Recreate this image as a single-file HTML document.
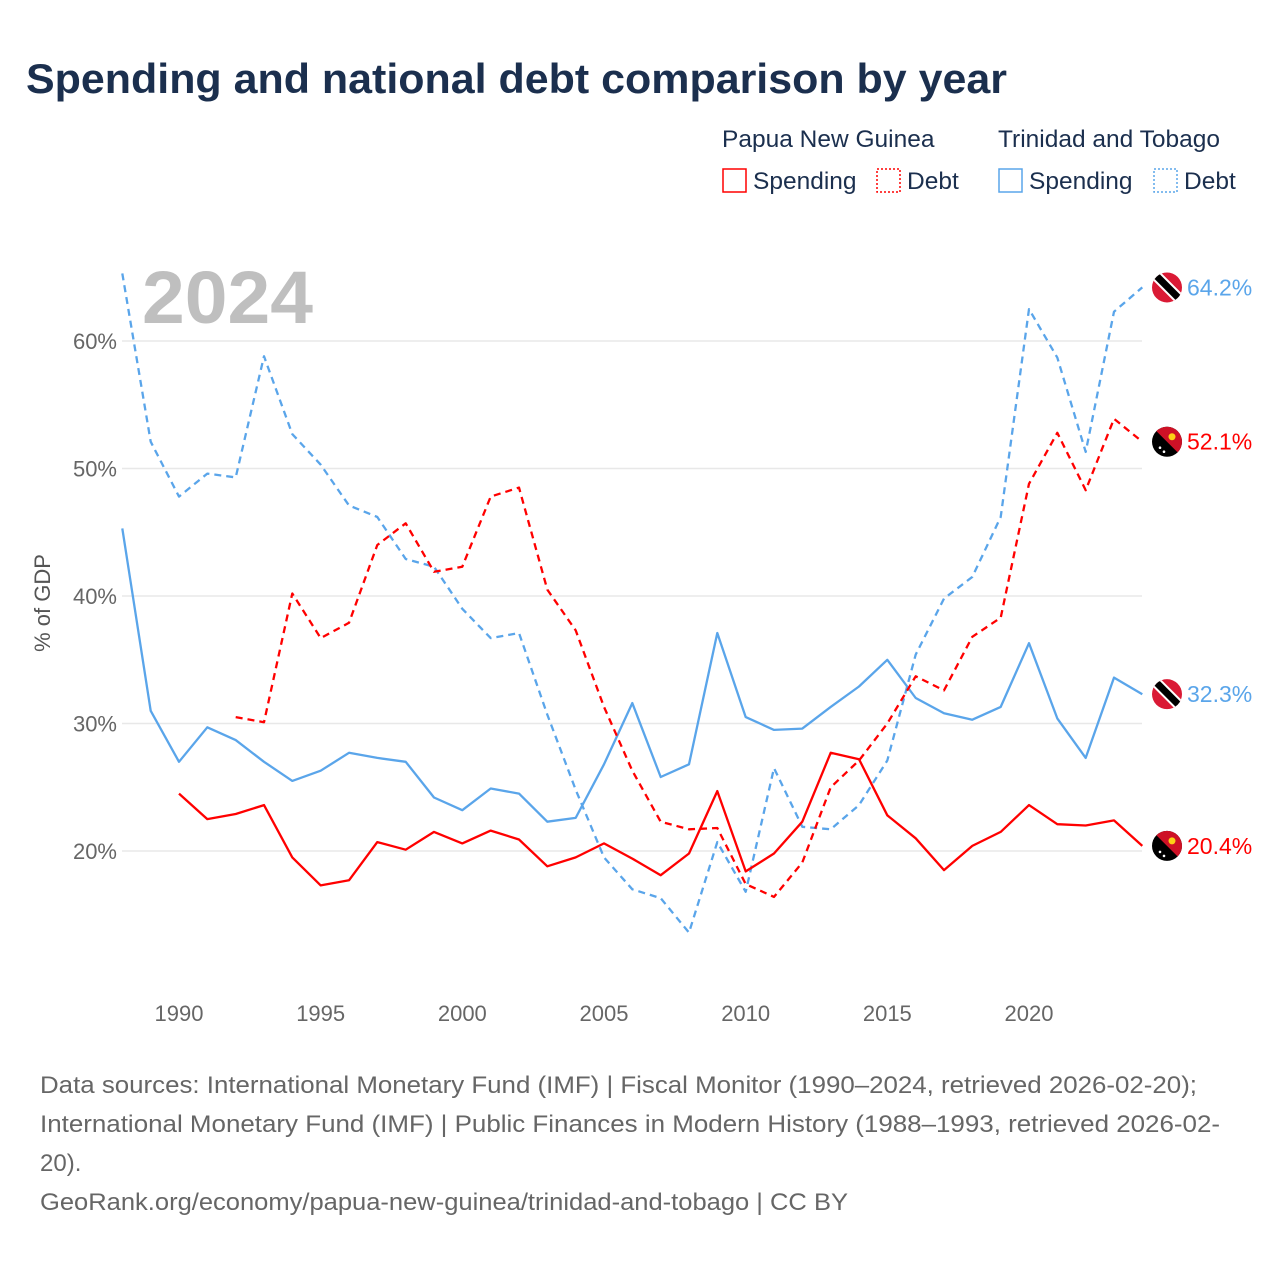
<!DOCTYPE html>
<html><head><meta charset="utf-8"><style>
body{margin:0;background:#fff;width:1280px;height:1280px;overflow:hidden;font-family:"Liberation Sans",sans-serif}
</style></head><body>
<svg width="1280" height="1280" id="chart" style="font-family:'Liberation Sans',sans-serif">
<text x="26" y="93" font-size="42" font-weight="bold" fill="#1b2f4e" textLength="981" lengthAdjust="spacingAndGlyphs">Spending and national debt comparison by year</text>
<g font-size="24.5" fill="#1b2f4e">
<text x="722" y="147">Papua New Guinea</text>
<text x="998" y="147">Trinidad and Tobago</text>
<g><rect x="723" y="169" width="23" height="23" fill="none" stroke="#f00" stroke-width="1.5"/><text x="753" y="189">Spending</text></g>
<g><rect x="877" y="169" width="23" height="23" fill="none" stroke="#f00" stroke-width="1.5" stroke-dasharray="2,2"/><text x="907" y="189">Debt</text></g>
<g><rect x="999" y="169" width="23" height="23" fill="none" stroke="#5aa5ea" stroke-width="1.5"/><text x="1029" y="189">Spending</text></g>
<g><rect x="1154" y="169" width="23" height="23" fill="none" stroke="#5aa5ea" stroke-width="1.5" stroke-dasharray="2,2"/><text x="1184" y="189">Debt</text></g>
</g>
<text x="142" y="323" font-size="74" font-weight="bold" fill="#bfbfbf" textLength="171" lengthAdjust="spacingAndGlyphs">2024</text>
<g id="grid"></g><g id="xaxis"></g><g id="lines"></g><g id="ends"></g>
<text transform="translate(50,603) rotate(-90)" text-anchor="middle" font-size="22" fill="#555">% of GDP</text>
<g font-size="24" fill="#666">
<text x="40" y="1093" textLength="1157" lengthAdjust="spacingAndGlyphs">Data sources: International Monetary Fund (IMF) | Fiscal Monitor (1990–2024, retrieved 2026-02-20);</text>
<text x="40" y="1132" textLength="1180" lengthAdjust="spacingAndGlyphs">International Monetary Fund (IMF) | Public Finances in Modern History (1988–1993, retrieved 2026-02-</text>
<text x="40" y="1171">20).</text>
<text x="40" y="1210" textLength="808" lengthAdjust="spacingAndGlyphs">GeoRank.org/economy/papua-new-guinea/trinidad-and-tobago | CC BY</text>
</g>
</svg>
<script>
const years=[1988,1989,1990,1991,1992,1993,1994,1995,1996,1997,1998,1999,2000,2001,2002,2003,2004,2005,2006,2007,2008,2009,2010,2011,2012,2013,2014,2015,2016,2017,2018,2019,2020,2021,2022,2023,2024];
const ttDebt=[65.3,52.1,47.8,49.6,49.3,58.8,52.7,50.3,47.1,46.2,42.9,42.3,39.0,36.7,37.1,30.7,24.8,19.5,17.0,16.3,13.6,20.7,16.8,26.5,21.9,21.7,23.6,27.1,35.4,39.8,41.5,46.2,62.5,58.7,51.3,62.3,64.2];
const ttSpending=[45.3,31.0,27.0,29.7,28.7,27.0,25.5,26.3,27.7,27.3,27.0,24.2,23.2,24.9,24.5,22.3,22.6,26.8,31.6,25.8,26.8,37.1,30.5,29.5,29.6,31.3,32.9,35.0,32.0,30.8,30.3,31.3,36.3,30.4,27.3,33.6,32.3];
const pngSpending=[null,null,24.5,22.5,22.9,23.6,19.5,17.3,17.7,20.7,20.1,21.5,20.6,21.6,20.9,18.8,19.5,20.6,19.4,18.1,19.8,24.7,18.4,19.8,22.3,27.7,27.2,22.8,21.0,18.5,20.4,21.5,23.6,22.1,22.0,22.4,20.4];
const pngDebt=[null,null,null,null,30.5,30.1,40.2,36.7,37.9,44.0,45.7,41.9,42.3,47.8,48.5,40.5,37.3,31.3,26.3,22.3,21.7,21.8,17.4,16.4,19.1,25.0,27.1,30.0,33.7,32.6,36.8,38.3,48.8,52.8,48.3,53.9,52.1];
const yTicks=[20,30,40,50,60];
const xTicks=[1990,1995,2000,2005,2010,2015,2020];
const NS='http://www.w3.org/2000/svg';
const X=y=>179+(y-1990)*850/30;
const Y=v=>851-(v-20)*12.75;
function mk(t,a,p){const e=document.createElementNS(NS,t);for(const k in a)e.setAttribute(k,a[k]);p.appendChild(e);return e;}
const grid=document.getElementById('grid');
yTicks.forEach(v=>{
const l=mk('line',{x1:122,x2:1142,y1:Y(v),y2:Y(v),stroke:'#e8e8e8','stroke-width':1.5},grid);


const t=mk('text',{x:117,y:Y(v)+8,'text-anchor':'end','font-size':22,fill:'#666'},grid);t.textContent=v+'%';


});
const xa=document.getElementById('xaxis');
xTicks.forEach(v=>{const t=mk('text',{x:X(v),y:1021,'text-anchor':'middle','font-size':22,fill:'#666'},xa);t.textContent=v;

});
const lines=document.getElementById('lines');
function draw(vals,color,dash,name){let d='';let pen=false;vals.forEach((v,i)=>{if(v==null){pen=false;return;}d+=(pen?'L':'M')+X(years[i]).toFixed(1)+','+Y(v).toFixed(1);pen=true;});
const p=mk('path',{d:d,fill:'none',stroke:color,'stroke-width':2.3,'stroke-linejoin':'round'},lines);if(dash)p.setAttribute('stroke-dasharray','7,5');

}
draw(ttDebt,'#5aa5ea',true,'tt-debt-line');
draw(ttSpending,'#5aa5ea',false,'tt-spending-line');
draw(pngDebt,'#f00',true,'png-debt-line');
draw(pngSpending,'#f00',false,'png-spending-line');
const ends=document.getElementById('ends');
function endMark(vals,color,flag,name){const v=vals[vals.length-1];const cy=Y(v);const g=mk('g',{},ends);


const cid='c'+name;const cp=mk('clipPath',{id:cid},g);mk('circle',{cx:1167,cy:cy,r:15},cp);
const f=mk('g',{'clip-path':'url(#'+cid+')'},g);
if(flag==='tt'){mk('rect',{x:1150,y:cy-17,width:34,height:34,fill:'#da1a35'},f);mk('line',{x1:1152,y1:cy-16,x2:1184,y2:cy+16,stroke:'#fff','stroke-width':11},f);mk('line',{x1:1152,y1:cy-16,x2:1184,y2:cy+16,stroke:'#000','stroke-width':7},f);}
else{mk('rect',{x:1150,y:cy-17,width:34,height:34,fill:'#000'},f);mk('polygon',{points:(1150)+','+(cy-17)+' 1184,'+(cy-17)+' 1184,'+(cy+17),fill:'#ce1126'},f);mk('circle',{cx:1172,cy:cy-5,r:3.5,fill:'#fcd116'},f);mk('circle',{cx:1160,cy:cy+6,r:1.3,fill:'#fff'},f);mk('circle',{cx:1164,cy:cy+10,r:1.3,fill:'#fff'},f);}
const t=mk('text',{x:1187,y:cy+8,'font-size':23,fill:color},g);t.textContent=v.toFixed(1)+'%';}
endMark(ttDebt,'#5aa5ea','tt','end-label-tt-debt');
endMark(pngDebt,'#f00','png','end-label-png-debt');
endMark(ttSpending,'#5aa5ea','tt','end-label-tt-spending');
endMark(pngSpending,'#f00','png','end-label-png-spending');
</script>
</body></html>
